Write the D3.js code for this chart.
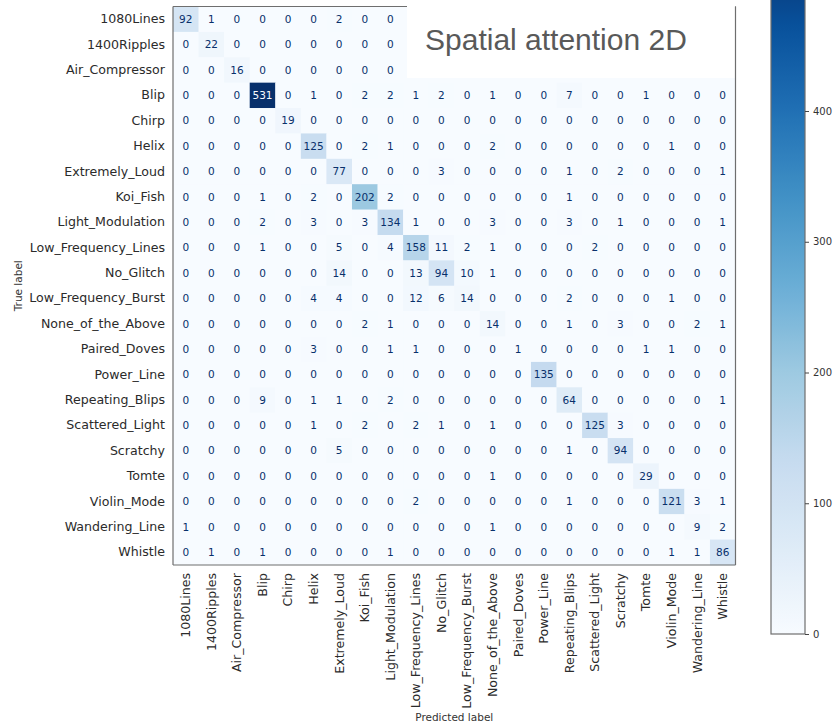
<!DOCTYPE html>
<html>
<head>
<meta charset="utf-8">
<script src="https://cdn.jsdelivr.net/npm/d3@7"></script>
<style>
  html, body { margin: 0; padding: 0; background: #fff; }
  svg { display: block; }
</style>
</head>
<body>
<svg id="chart" width="836" height="725"></svg>
<script>
// Class names (shared by true and predicted axes)
const categories = [
  "1080Lines", "1400Ripples", "Air_Compressor", "Blip", "Chirp", "Helix",
  "Extremely_Loud", "Koi_Fish", "Light_Modulation", "Low_Frequency_Lines",
  "No_Glitch", "Low_Frequency_Burst", "None_of_the_Above", "Paired_Doves",
  "Power_Line", "Repeating_Blips", "Scattered_Light", "Scratchy", "Tomte",
  "Violin_Mode", "Wandering_Line", "Whistle"
];

// Confusion counts, one row per true class (columns = predicted class).
// null = cell sits under the title panel and is not shown.
const _ = null;
const row_1080Lines          = [92, 1, 0, 0, 0, 0, 2, 0, 0, _, _, _, _, _, _, _, _, _, _, _, _, _];
const row_1400Ripples        = [0, 22, 0, 0, 0, 0, 0, 0, 0, _, _, _, _, _, _, _, _, _, _, _, _, _];
const row_Air_Compressor     = [0, 0, 16, 0, 0, 0, 0, 0, 0, _, _, _, _, _, _, _, _, _, _, _, _, _];
const row_Blip               = [0, 0, 0, 531, 0, 1, 0, 2, 2, 1, 2, 0, 1, 0, 0, 7, 0, 0, 1, 0, 0, 0];
const row_Chirp              = [0, 0, 0, 0, 19, 0, 0, 0, 0, 0, 0, 0, 0, 0, 0, 0, 0, 0, 0, 0, 0, 0];
const row_Helix              = [0, 0, 0, 0, 0, 125, 0, 2, 1, 0, 0, 0, 2, 0, 0, 0, 0, 0, 0, 1, 0, 0];
const row_Extremely_Loud     = [0, 0, 0, 0, 0, 0, 77, 0, 0, 0, 3, 0, 0, 0, 0, 1, 0, 2, 0, 0, 0, 1];
const row_Koi_Fish           = [0, 0, 0, 1, 0, 2, 0, 202, 2, 0, 0, 0, 0, 0, 0, 1, 0, 0, 0, 0, 0, 0];
const row_Light_Modulation   = [0, 0, 0, 2, 0, 3, 0, 3, 134, 1, 0, 0, 3, 0, 0, 3, 0, 1, 0, 0, 0, 1];
const row_Low_Frequency_Lines= [0, 0, 0, 1, 0, 0, 5, 0, 4, 158, 11, 2, 1, 0, 0, 0, 2, 0, 0, 0, 0, 0];
const row_No_Glitch          = [0, 0, 0, 0, 0, 0, 14, 0, 0, 13, 94, 10, 1, 0, 0, 0, 0, 0, 0, 0, 0, 0];
const row_Low_Frequency_Burst= [0, 0, 0, 0, 0, 4, 4, 0, 0, 12, 6, 14, 0, 0, 0, 2, 0, 0, 0, 1, 0, 0];
const row_None_of_the_Above  = [0, 0, 0, 0, 0, 0, 0, 2, 1, 0, 0, 0, 14, 0, 0, 1, 0, 3, 0, 0, 2, 1];
const row_Paired_Doves       = [0, 0, 0, 0, 0, 3, 0, 0, 1, 1, 0, 0, 0, 1, 0, 0, 0, 0, 1, 1, 0, 0];
const row_Power_Line         = [0, 0, 0, 0, 0, 0, 0, 0, 0, 0, 0, 0, 0, 0, 135, 0, 0, 0, 0, 0, 0, 0];
const row_Repeating_Blips    = [0, 0, 0, 9, 0, 1, 1, 0, 2, 0, 0, 0, 0, 0, 0, 64, 0, 0, 0, 0, 0, 1];
const row_Scattered_Light    = [0, 0, 0, 0, 0, 1, 0, 2, 0, 2, 1, 0, 1, 0, 0, 0, 125, 3, 0, 0, 0, 0];
const row_Scratchy           = [0, 0, 0, 0, 0, 0, 5, 0, 0, 0, 0, 0, 0, 0, 0, 1, 0, 94, 0, 0, 0, 0];
const row_Tomte              = [0, 0, 0, 0, 0, 0, 0, 0, 0, 0, 0, 0, 1, 0, 0, 0, 0, 0, 29, 0, 0, 0];
const row_Violin_Mode        = [0, 0, 0, 0, 0, 0, 0, 0, 0, 2, 0, 0, 0, 0, 0, 1, 0, 0, 0, 121, 3, 1];
const row_Wandering_Line     = [1, 0, 0, 0, 0, 0, 0, 0, 0, 0, 0, 0, 1, 0, 0, 0, 0, 0, 0, 0, 9, 2];
const row_Whistle            = [0, 1, 0, 1, 0, 0, 0, 0, 1, 0, 0, 0, 0, 0, 0, 0, 0, 0, 0, 1, 1, 86];

const colorbarTicks = [0, 100, 200, 300, 400];
const titleText = "Spatial attention 2D";

// Assemble the matrix from the rows above
const matrix = [
  row_1080Lines, row_1400Ripples, row_Air_Compressor, row_Blip, row_Chirp,
  row_Helix, row_Extremely_Loud, row_Koi_Fish, row_Light_Modulation,
  row_Low_Frequency_Lines, row_No_Glitch, row_Low_Frequency_Burst,
  row_None_of_the_Above, row_Paired_Doves, row_Power_Line, row_Repeating_Blips,
  row_Scattered_Light, row_Scratchy, row_Tomte, row_Violin_Mode,
  row_Wandering_Line, row_Whistle
];

const cells = [];
matrix.forEach((row, i) => row.forEach((v, j) => {
  if (v !== null) cells.push({ t: categories[i], p: categories[j], v });
}));

const vmax = d3.max(cells, d => d.v);
const vmin = 0;

// "Blues" colormap: linear segments through the ColorBrewer stops
const bluesStops = ["#f7fbff", "#deebf7", "#c6dbef", "#9ecae1", "#6baed6",
                    "#4292c6", "#2171b5", "#08519c", "#08306b"];
const blues = d3.piecewise(d3.interpolateRgb, bluesStops);
const color = d3.scaleSequential(blues).domain([vmin, vmax]);

const svg = d3.select("#chart");
const font = "'DejaVu Sans', sans-serif";

// Matrix geometry
const mLeft = 173, mRight = 735.5, mTop = 6.5, mBottom = 565;
const x = d3.scaleBand().domain(categories).range([mLeft, mRight]);
const y = d3.scaleBand().domain(categories).range([mTop, mBottom]);

// Background of the matrix area (lowest colour of the map)
svg.append("rect").attr("x", mLeft).attr("y", mTop)
  .attr("width", mRight - mLeft).attr("height", mBottom - mTop)
  .attr("fill", color(vmin));

// Cells
svg.append("g").selectAll("rect").data(cells).join("rect")
  .attr("x", d => x(d.p))
  .attr("y", d => y(d.t))
  .attr("width", x.bandwidth() + 0.3)
  .attr("height", y.bandwidth() + 0.3)
  .attr("fill", d => color(d.v));

// Cell value labels: light text on dark cells, dark text elsewhere
const thresh = (vmax + vmin) / 2;
svg.append("g").selectAll("text").data(cells).join("text")
  .attr("x", d => x(d.p) + x.bandwidth() / 2)
  .attr("y", d => y(d.t) + y.bandwidth() / 2)
  .attr("dy", "0.35em")
  .attr("text-anchor", "middle")
  .attr("font-family", font)
  .attr("font-size", 10.5)
  .attr("fill", d => d.v < thresh ? "#08306b" : "#f7fbff")
  .text(d => d.v);

// Axes (tick labels only)
const yAxis = d3.axisLeft(y).tickSize(0).tickPadding(8);
const gy = svg.append("g").attr("transform", `translate(${mLeft},0)`).call(yAxis);
gy.select(".domain").remove();
gy.selectAll("text").attr("font-family", font).attr("font-size", 12.6).attr("fill", "#2b2b2b");

const xAxis = d3.axisBottom(x).tickSize(0).tickPadding(8);
const gx = svg.append("g").attr("transform", `translate(0,${mBottom})`).call(xAxis);
gx.select(".domain").remove();
gx.selectAll("text")
  .attr("font-family", font).attr("font-size", 12.6).attr("fill", "#2b2b2b")
  .attr("transform", "rotate(-90)")
  .attr("text-anchor", "end")
  .attr("x", -8).attr("y", 0).attr("dy", "0.35em");

// Frame: left, bottom and top edges
const frame = svg.append("g").attr("stroke", "#6e6e6e").attr("stroke-width", 1.2).attr("fill", "none");
frame.append("line").attr("x1", mLeft).attr("x2", mLeft).attr("y1", mTop).attr("y2", mBottom);
frame.append("line").attr("x1", mLeft).attr("x2", mRight).attr("y1", mBottom).attr("y2", mBottom);
frame.append("line").attr("x1", mLeft).attr("x2", mRight).attr("y1", mTop).attr("y2", mTop);

// Title panel
svg.append("rect").attr("x", 407).attr("y", 0).attr("width", mRight - 407 - 0.5).attr("height", 78).attr("fill", "#fff");
svg.append("text")
  .attr("x", 425).attr("y", 50)
  .attr("font-family", "'Liberation Sans', Arial, sans-serif")
  .attr("font-size", 30)
  .attr("fill", "#595959")
  .text(titleText);

// Right edge of the frame
svg.append("line").attr("x1", mRight).attr("x2", mRight).attr("y1", mTop).attr("y2", mBottom)
  .attr("stroke", "#6e6e6e").attr("stroke-width", 1.2);

// Axis titles
svg.append("text")
  .attr("transform", `translate(22,${(mTop + mBottom) / 2}) rotate(-90)`)
  .attr("text-anchor", "middle")
  .attr("font-family", font).attr("font-size", 10.5).attr("fill", "#333")
  .text("True label");
svg.append("text")
  .attr("x", (mLeft + mRight) / 2).attr("y", 721)
  .attr("text-anchor", "middle")
  .attr("font-family", font).attr("font-size", 10.5).attr("fill", "#333")
  .text("Predicted label");

// Colorbar
const cbX = 771, cbW = 34, cbBottom = 634, pxPerUnit = 1.3075;
const cbScale = d3.scaleLinear().domain([vmin, vmax]).range([cbBottom, cbBottom - pxPerUnit * (vmax - vmin)]);

const defs = svg.append("defs");
const grad = defs.append("linearGradient").attr("id", "cbGrad")
  .attr("x1", 0).attr("x2", 0).attr("y1", 1).attr("y2", 0);
d3.range(0, 1.0001, 0.02).forEach(t => {
  grad.append("stop").attr("offset", t).attr("stop-color", color(vmin + t * (vmax - vmin)));
});
svg.append("rect")
  .attr("x", cbX).attr("y", cbScale(vmax))
  .attr("width", cbW).attr("height", cbScale(vmin) - cbScale(vmax))
  .attr("fill", "url(#cbGrad)")
  .attr("stroke", "#6e6e6e").attr("stroke-width", 1.2);

const cbAxis = d3.axisRight(cbScale).tickValues(colorbarTicks).tickSize(4).tickPadding(4);
const gcb = svg.append("g").attr("transform", `translate(${cbX + cbW},0)`).call(cbAxis);
gcb.select(".domain").remove();
gcb.selectAll("line").attr("stroke", "#444");
gcb.selectAll("text").attr("font-family", font).attr("font-size", 10).attr("fill", "#333");
</script>
</body>
</html>
